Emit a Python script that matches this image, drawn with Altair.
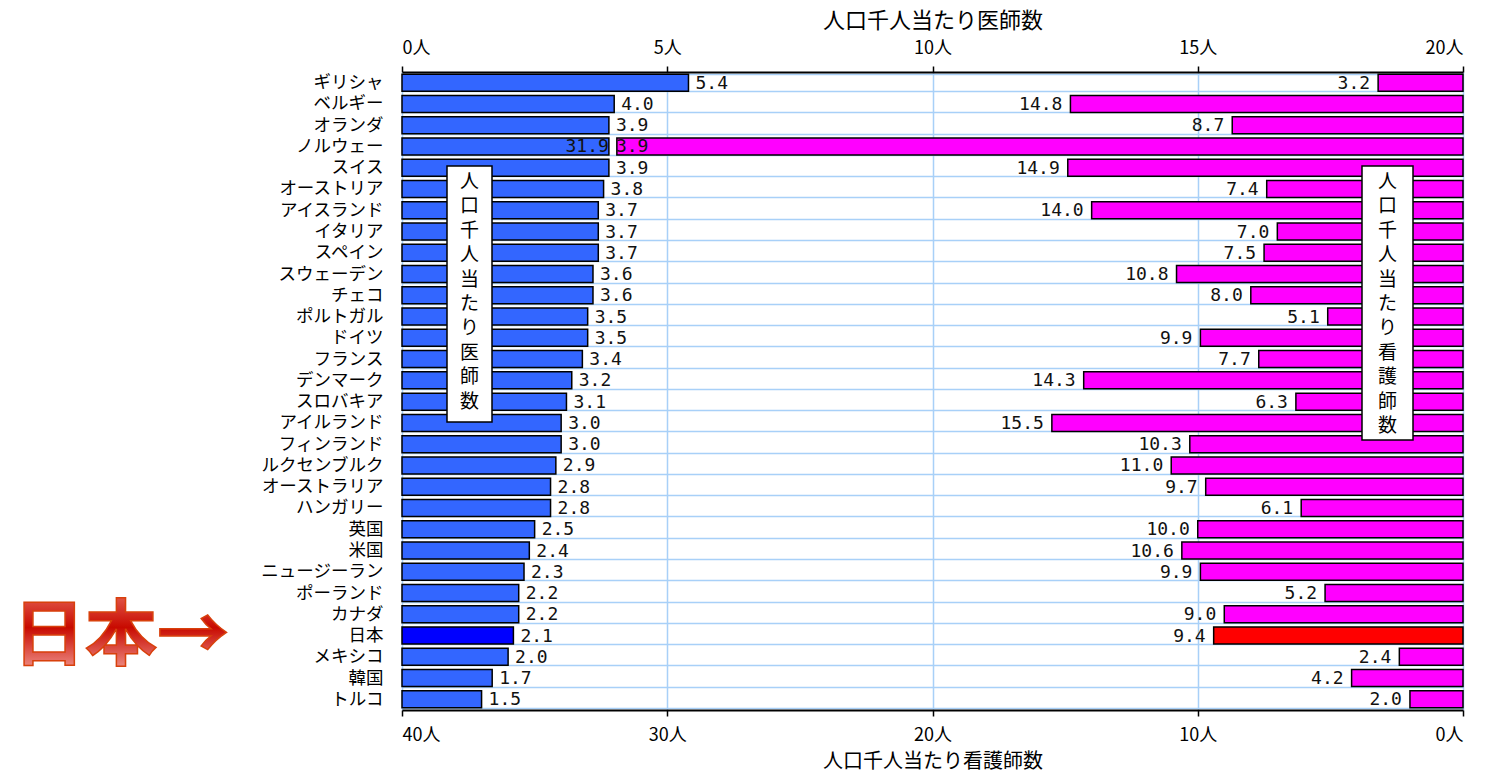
import altair as alt
import pandas as pd

countries = ["ギリシャ", "ベルギー", "オランダ", "ノルウェー", "スイス", "オーストリア",
             "アイスランド", "イタリア", "スペイン", "スウェーデン", "チェコ", "ポルトガル",
             "ドイツ", "フランス", "デンマーク", "スロバキア", "アイルランド", "フィンランド",
             "ルクセンブルク", "オーストラリア", "ハンガリー", "英国", "米国", "ニュージーラン",
             "ポーランド", "カナダ", "日本", "メキシコ", "韓国", "トルコ"]
doctors = [5.4, 4.0, 3.9, 3.9, 3.9, 3.8, 3.7, 3.7, 3.7, 3.6, 3.6, 3.5, 3.5, 3.4, 3.2,
           3.1, 3.0, 3.0, 2.9, 2.8, 2.8, 2.5, 2.4, 2.3, 2.2, 2.2, 2.1, 2.0, 1.7, 1.5]
nurses = [3.2, 14.8, 8.7, 31.9, 14.9, 7.4, 14.0, 7.0, 7.5, 10.8, 8.0, 5.1, 9.9, 7.7, 14.3,
          6.3, 15.5, 10.3, 11.0, 9.7, 6.1, 10.0, 10.6, 9.9, 5.2, 9.0, 9.4, 2.4, 4.2, 2.0]

doctor_ticks = [0, 5, 10, 15, 20]
nurse_ticks = [0, 10, 20, 30, 40]
doctor_title = "人口千人当たり医師数"
nurse_title = "人口千人当たり看護師数"
highlight = "日本"

df = pd.DataFrame({"country": countries, "doctors": doctors, "nurses": nurses})
one = pd.DataFrame({"k": [0]})

W, H = 1061, 638
FONT = "Noto Sans CJK JP"
NUMFONT = "DejaVu Sans Mono"
GRID = "#A8D0F8"

y_enc = alt.Y(
    "country:N", sort=countries,
    scale=alt.Scale(paddingInner=0.2, paddingOuter=0.1),
    axis=alt.Axis(title=None, ticks=False, domain=False, labelPadding=19,
                  labelFont=FONT, labelFontSize=17.5, labelColor="#000",
                  grid=True, gridColor=GRID, gridWidth=1.5, tickBand="extent",
                  labelLimit=400),
)

base = alt.Chart(df)
is_jp = f"datum.country === '{highlight}'"

doc_bar = base.mark_bar(stroke="black", strokeWidth=1.5).encode(
    x=alt.X("doctors:Q",
            scale=alt.Scale(domain=[0, 20], nice=False),
            axis=alt.Axis(orient="top", values=doctor_ticks,
                          labelExpr="datum.value + '人'",
                          title=doctor_title, titleFont=FONT, titleFontSize=22,
                          titleFontWeight="normal", titleColor="#000", titlePadding=7,
                          labelFont=FONT, labelFontSize=18, labelColor="#000",
                          labelPadding=9, tickSize=6, tickColor="#000", tickWidth=1.5,
                          domainColor="#000", domainWidth=2,
                          grid=True, gridColor=GRID, gridWidth=1.5)),
    y=y_enc,
    color=alt.condition(is_jp, alt.value("#0000FF"), alt.value("#3366FF")),
)

nurse_bar = base.mark_bar(stroke="black", strokeWidth=1.5).encode(
    x=alt.X("nurses:Q",
            scale=alt.Scale(domain=[0, 40], nice=False, reverse=True),
            axis=alt.Axis(orient="bottom", values=nurse_ticks,
                          labelExpr="datum.value + '人'",
                          title=nurse_title, titleFont=FONT, titleFontSize=20,
                          titleFontWeight="normal", titleColor="#000", titlePadding=7,
                          labelFont=FONT, labelFontSize=18, labelColor="#000",
                          labelPadding=10, tickSize=6, tickColor="#000", tickWidth=1.5,
                          domainColor="#000", domainWidth=2, grid=False)),
    y=y_enc,
    color=alt.condition(is_jp, alt.value("#FF0000"), alt.value("#FF00FF")),
)

doc_text = base.mark_text(align="left", baseline="middle", dx=7, dy=1,
                          font=NUMFONT, fontSize=18, color="#111").encode(
    x=alt.X("doctors:Q", scale=alt.Scale(domain=[0, 20], nice=False), axis=None),
    y=y_enc,
    text=alt.Text("doctors:Q", format=".1f"),
)

nurse_text = base.mark_text(align="right", baseline="middle", dx=-8, dy=1,
                            font=NUMFONT, fontSize=18, color="#111").encode(
    x=alt.X("nurses:Q", scale=alt.Scale(domain=[0, 40], nice=False, reverse=True), axis=None),
    y=y_enc,
    text=alt.Text("nurses:Q", format=".1f"),
)

box1 = alt.Chart(one).mark_rect(fill="white", stroke="black", strokeWidth=1.5).encode(
    x=alt.value(45), x2=alt.value(90), y=alt.value(94), y2=alt.value(350))
box1_text = alt.Chart(one).mark_text(font=FONT, fontSize=19, lineHeight=24.4,
                                     align="center", baseline="top", color="#000").encode(
    x=alt.value(67.5), y=alt.value(101), text=alt.value(list(doctor_title)))

box2 = alt.Chart(one).mark_rect(fill="white", stroke="black", strokeWidth=1.5).encode(
    x=alt.value(960), x2=alt.value(1011), y=alt.value(94), y2=alt.value(368))
box2_text = alt.Chart(one).mark_text(font=FONT, fontSize=19, lineHeight=24.4,
                                     align="center", baseline="top", color="#000").encode(
    x=alt.value(985.5), y=alt.value(101), text=alt.value(list(nurse_title)))

grad = alt.LinearGradient(
    gradient="linear", x1=0, y1=0, x2=0, y2=1,
    stops=[alt.GradientStop(color="#F28A7A", offset=0),
           alt.GradientStop(color="#C80A00", offset=0.5),
           alt.GradientStop(color="#F8B0A8", offset=1)])
japan_note = alt.Chart(one).mark_text(
    font=FONT, fontSize=72, fontWeight="bold", fill=grad,
    stroke="#D8400C", strokeWidth=1.5, align="left", baseline="middle").encode(
    x=alt.value(-389), y=alt.value(565), text=alt.value("日本→"))

chart = alt.layer(
    doc_bar, nurse_bar, doc_text, nurse_text,
    box1, box1_text, box2, box2_text, japan_note
).resolve_scale(x="independent").properties(
    width=W, height=H,
    autosize=alt.AutoSizeParams(type="none"),
    padding={"left": 402, "top": 72, "right": 28, "bottom": 62},
    background="white",
).configure_view(stroke="transparent")

chart.save("out.html", embed_options={"renderer": "svg", "actions": False})
